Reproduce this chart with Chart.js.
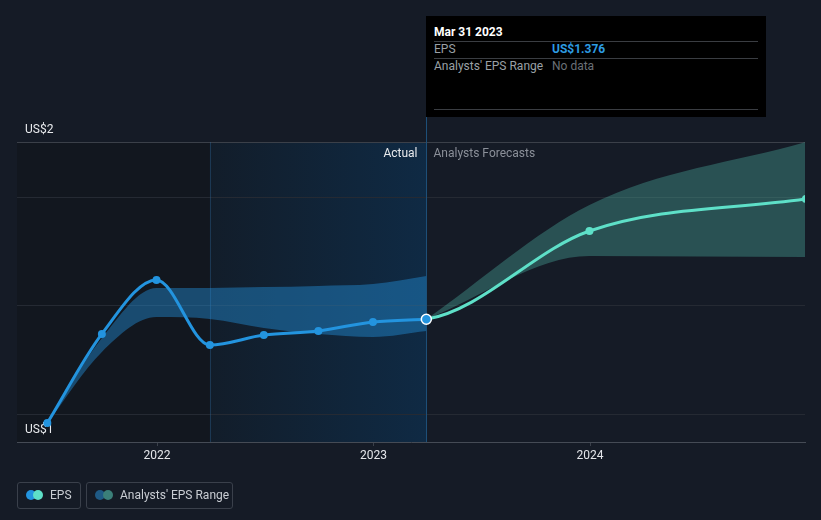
<!DOCTYPE html>
<html>
<head>
<meta charset="utf-8">
<script src="https://cdn.jsdelivr.net/npm/chart.js@4.4.0/dist/chart.umd.min.js"></script>
<style>
html,body{margin:0;padding:0;background:#151b26;width:821px;height:520px;overflow:hidden;font-family:Roboto,"Open Sans",sans-serif;}
#c{position:absolute;left:0;top:0;}
#tip{position:absolute;left:426px;top:16px;width:340px;height:101px;background:#000;}
.sep{position:absolute;left:8px;width:324px;height:1px;background:#3a3d42;}
.t{position:absolute;font-size:12px;line-height:14px;white-space:nowrap;}
.lg{position:absolute;top:482px;height:25px;border:1px solid #3a404b;border-radius:3px;}
.dot{position:absolute;width:10px;height:10px;border-radius:50%;top:7px;}
.lt{position:absolute;top:5px;font-size:12px;line-height:14px;color:#c9cdd3;white-space:nowrap;}
</style>
</head>
<body>
<canvas id="c" width="821" height="520"></canvas>

<div id="tip">
  <div class="t" style="left:8px;top:9px;color:#fff;font-weight:bold;">Mar 31 2023</div>
  <div class="sep" style="top:25px"></div>
  <div class="t" style="left:8px;top:26px;color:#9aa0a6;">EPS</div>
  <div class="t" style="left:126px;top:26px;color:#2d9ce3;font-weight:bold;">US$1.376</div>
  <div class="sep" style="top:42px"></div>
  <div class="t" style="left:8px;top:43px;color:#9aa0a6;">Analysts' EPS Range</div>
  <div class="t" style="left:126px;top:43px;color:#6b7077;">No data</div>
  <div class="sep" style="top:93px"></div>
</div>

<div class="lg" style="left:17px;width:62px;">
  <div class="dot" style="left:8px;background:#2394df"></div>
  <div class="dot" style="left:15px;background:#5ee0c8"></div>
  <div class="lt" style="left:32px;">EPS</div>
</div>
<div class="lg" style="left:86px;width:145px;">
  <div class="dot" style="left:8px;background:#1f5a85"></div>
  <div class="dot" style="left:16px;background:#3b7f79"></div>
  <div class="lt" style="left:33px;">Analysts' EPS Range</div>
</div>

<script>
// ---- data ----
const ACTUAL_DATES = ['2021-06-30','2021-09-30','2021-12-31','2022-03-31','2022-06-30','2022-09-30','2022-12-31','2023-03-31'];
const EPS_ACTUAL = [1.030, 1.327, 1.507, 1.290, 1.323, 1.337, 1.367, 1.376];
const PAST_RANGE_HIGH = [1.030, 1.313, 1.480, 1.480, 1.483, 1.487, 1.493, 1.520];
const PAST_RANGE_LOW  = [1.030, 1.267, 1.383, 1.377, 1.347, 1.327, 1.317, 1.337];

// forecast line is anchored on the last two reported quarters (first segment hidden)
const FORECAST_LINE_DATES = ['2022-12-31','2023-03-31','2023-12-31','2024-12-31'];
const EPS_FORECAST = [1.367, 1.376, 1.670, 1.777];
const FORECAST_RANGE_DATES = ['2023-03-31','2023-12-31','2024-12-31'];
const FORECAST_HIGH = [1.376, 1.757, 1.967];
const FORECAST_LOW  = [1.376, 1.587, 1.583];

const X_TICKS = [2022, 2023, 2024];
const Y_LABEL_VALUES = [1, 2];
const Y_LABELS = ['US$1', 'US$2'];
const Y_GRID_VALUES = [1.06, 1.423, 1.783];
const HIGHLIGHT_START = '2022-03-31';
const DIVIDER_DATE = '2023-03-31';

// ---- helpers ----
function yearFrac(s){
  const d = new Date(s + 'T00:00:00Z');
  const y = d.getUTCFullYear();
  const start = Date.UTC(y,0,1), end = Date.UTC(y+1,0,1);
  return y + (d.getTime()-start)/(end-start);
}
const pts = (dates, vals) => dates.map((d,i)=>({x:yearFrac(d), y:vals[i]}));

const X_MIN = 2021.353, X_MAX = 2024.993;
const Y_MIN = 0.9667, Y_MAX = 1.9667;
const FONT = 'Roboto, "Open Sans", sans-serif';

const bgPlugin = {
  id:'bg',
  beforeDraw(chart){
    const {ctx, chartArea:a, scales:{x}} = chart;
    ctx.save();
    ctx.fillStyle = '#151b26';
    ctx.fillRect(0,0,chart.width,chart.height);
    const hx = x.getPixelForValue(yearFrac(HIGHLIGHT_START));
    const dx = x.getPixelForValue(yearFrac(DIVIDER_DATE));
    ctx.fillStyle = '#12171f';
    ctx.fillRect(a.left, a.top, hx - a.left, a.bottom - a.top);
    const g = ctx.createLinearGradient(hx,0,dx,0);
    g.addColorStop(0,'#121d2a');
    g.addColorStop(1,'#0f2a44');
    ctx.fillStyle = g;
    ctx.fillRect(hx, a.top, dx - hx, a.bottom - a.top);
    ctx.restore();
  },
  beforeDatasetsDraw(chart){
    const {ctx, chartArea:a, scales:{x}} = chart;
    const hx = Math.round(x.getPixelForValue(yearFrac(HIGHLIGHT_START))) + 0.5;
    const dx = Math.round(x.getPixelForValue(yearFrac(DIVIDER_DATE))) + 0.5;
    ctx.save();
    ctx.lineWidth = 1;
    ctx.strokeStyle = 'rgba(50,110,160,0.35)';
    ctx.beginPath(); ctx.moveTo(hx, a.top); ctx.lineTo(hx, a.bottom); ctx.stroke();
    ctx.strokeStyle = '#1d4f78';
    ctx.beginPath(); ctx.moveTo(dx, 117); ctx.lineTo(dx, a.bottom); ctx.stroke();
    ctx.font = '12px ' + FONT;
    ctx.textBaseline = 'middle';
    ctx.textAlign = 'right';
    ctx.fillStyle = '#e8eaed';
    ctx.fillText('Actual', dx - 9, a.top + 12);
    ctx.textAlign = 'left';
    ctx.fillStyle = '#8b9099';
    ctx.fillText('Analysts Forecasts', dx + 7, a.top + 12);
    ctx.restore();
  }
};

const lastIdx = EPS_ACTUAL.length - 1;

new Chart(document.getElementById('c'), {
  type:'line',
  data:{
    datasets:[
      { label:'pastLow', data: pts(ACTUAL_DATES, PAST_RANGE_LOW), borderWidth:0, pointRadius:0,
        borderColor:'rgba(0,0,0,0)', fill:false, cubicInterpolationMode:'monotone', order:2 },
      { label:'pastHigh', data: pts(ACTUAL_DATES, PAST_RANGE_HIGH), borderWidth:0, pointRadius:0,
        borderColor:'rgba(0,0,0,0)', backgroundColor:'rgba(35,148,223,0.42)', fill:'-1',
        cubicInterpolationMode:'monotone', order:2 },
      { label:'fcLow', data: pts(FORECAST_RANGE_DATES, FORECAST_LOW), borderWidth:0, pointRadius:0,
        borderColor:'rgba(0,0,0,0)', fill:false, cubicInterpolationMode:'monotone', order:2 },
      { label:'fcHigh', data: pts(FORECAST_RANGE_DATES, FORECAST_HIGH), borderWidth:0, pointRadius:0,
        borderColor:'rgba(0,0,0,0)', backgroundColor:'rgba(94,224,200,0.28)', fill:'-1',
        cubicInterpolationMode:'monotone', order:2 },
      { label:'EPS', data: pts(ACTUAL_DATES, EPS_ACTUAL), borderColor:'#2394df', backgroundColor:'#2394df',
        borderWidth:3, cubicInterpolationMode:'monotone', fill:false,
        pointRadius: EPS_ACTUAL.map((v,i)=> i===lastIdx ? 5 : 4),
        pointBorderWidth: EPS_ACTUAL.map((v,i)=> i===lastIdx ? 1.5 : 0),
        pointBorderColor: EPS_ACTUAL.map((v,i)=> i===lastIdx ? '#ffffff' : '#2394df'),
        pointBackgroundColor:'#2394df', order:0 },
      { label:'EPS forecast', data: pts(FORECAST_LINE_DATES, EPS_FORECAST), borderColor:'#5ee0c8', backgroundColor:'#5ee0c8',
        borderWidth:3, cubicInterpolationMode:'monotone', fill:false,
        segment:{ borderColor: c => c.p0DataIndex === 0 ? 'rgba(0,0,0,0)' : undefined },
        pointRadius: EPS_FORECAST.map((v,i)=> i < 2 ? 0 : 4), pointBorderWidth:0,
        pointBackgroundColor:'#5ee0c8', order:1 }
    ]
  },
  options:{
    responsive:false, animation:false, events:[],
    layout:{ padding:{ left:17, right:16, top:142, bottom:56 } },
    plugins:{ legend:{display:false}, tooltip:{enabled:false} },
    scales:{
      x:{
        type:'linear', min:X_MIN, max:X_MAX,
        afterBuildTicks: s => { s.ticks = X_TICKS.map(v=>({value:v})); },
        afterFit: s => { s.height = 22; },
        grid:{ drawOnChartArea:false, drawTicks:true, tickLength:4, color:'#3a404a' },
        border:{ color:'#454b55', width:1 },
        ticks:{ color:'#e4e6ea', padding:3, autoSkip:false, maxRotation:0,
                font:{ size:12, family:FONT }, callback: v => String(v) }
      },
      y:{
        type:'linear', min:Y_MIN, max:Y_MAX, position:'left',
        afterBuildTicks: s => {
          const vals = [...Y_LABEL_VALUES, ...Y_GRID_VALUES, Y_MAX].sort((a,b)=>a-b);
          s.ticks = vals.map(v=>({value:v}));
        },
        afterFit: s => { s.width = 0; },
        grid:{ drawTicks:false, lineWidth:1,
          color: c => {
            const v = c.tick ? c.tick.value : null;
            if (v === Y_MAX) return '#3b4049';
            if (Y_GRID_VALUES.includes(v)) return '#252a33';
            return 'rgba(0,0,0,0)';
          }
        },
        border:{ display:false },
        ticks:{ mirror:true, padding:8, autoSkip:false, color:'#e8eaed', labelOffset:-2,
          font:{ size:12, family:FONT },
          callback: v => { const i = Y_LABEL_VALUES.indexOf(v); return i >= 0 ? Y_LABELS[i] : ''; }
        }
      }
    }
  },
  plugins:[bgPlugin]
});
</script>
</body>
</html>
